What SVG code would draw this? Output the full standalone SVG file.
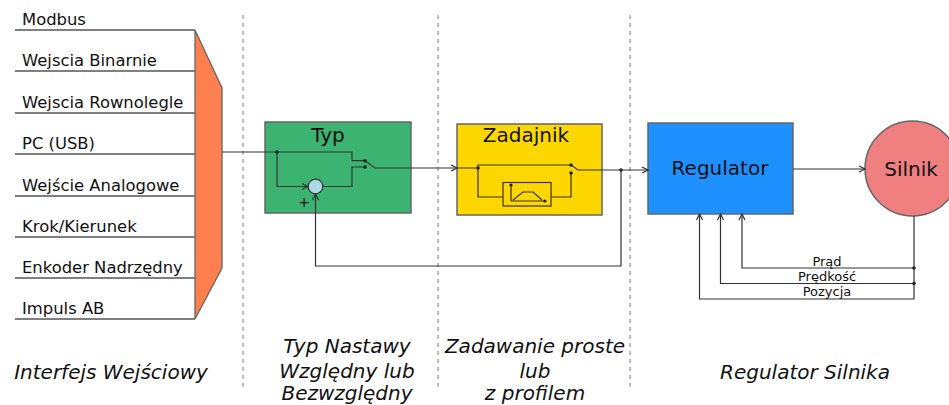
<svg xmlns="http://www.w3.org/2000/svg" width="949" height="405" viewBox="0 0 949 405">
<style>
.lbl{font-family:"DejaVu Sans","Verdana",sans-serif;font-size:16.4px;fill:#111}
.ttl{font-family:"DejaVu Sans","Verdana",sans-serif;font-size:20px;fill:#111;text-anchor:middle}
.sec{font-family:"DejaVu Sans","Verdana",sans-serif;font-size:20px;font-style:italic;fill:#111;text-anchor:middle}
.fb{font-family:"DejaVu Sans","Verdana",sans-serif;font-size:13px;fill:#111;text-anchor:middle}
.ln{fill:none;stroke:#333;stroke-width:1.2}
.in{fill:none;stroke:#555;stroke-width:1.3}
.dash{stroke:#aaa;stroke-width:1.5;stroke-dasharray:4 4}
.box{stroke:#666;stroke-width:1.5}
.dot{fill:#222}
</style>
<defs>
<marker id="ar" markerWidth="8" markerHeight="8" refX="7" refY="4" orient="auto" markerUnits="userSpaceOnUse">
<path d="M1,1 L7,4 L1,7" fill="none" stroke="#333" stroke-width="1.2"/>
</marker>
</defs>
<rect width="949" height="405" fill="#fff"/>
<g id="separators">
<line class="dash" x1="243" y1="15" x2="243" y2="390"/>
<line class="dash" x1="438" y1="15" x2="438" y2="390"/>
<line class="dash" x1="630" y1="15" x2="630" y2="390"/>
</g>
<g id="inputs">
<g class="in">
<line x1="15" y1="30" x2="195" y2="30"/>
<line x1="15" y1="71" x2="195" y2="71"/>
<line x1="15" y1="113" x2="195" y2="113"/>
<line x1="15" y1="154" x2="195" y2="154"/>
<line x1="15" y1="196" x2="195" y2="196"/>
<line x1="15" y1="237" x2="195" y2="237"/>
<line x1="15" y1="278" x2="195" y2="278"/>
<line x1="15" y1="319" x2="195" y2="319"/>
</g>
<text class="lbl" x="22" y="25">Modbus</text>
<text class="lbl" x="22" y="66">Wejscia Binarnie</text>
<text class="lbl" x="22" y="108">Wejscia Rownolegle</text>
<text class="lbl" x="22" y="149">PC (USB)</text>
<text class="lbl" x="22" y="191">Wejście Analogowe</text>
<text class="lbl" x="22" y="232">Krok/Kierunek</text>
<text class="lbl" x="22" y="273">Enkoder Nadrzędny</text>
<text class="lbl" x="22" y="314">Impuls AB</text>
</g>
<g id="mux">
<polygon points="195,30 222,88 222,268 195,319" fill="#FF7F4F" stroke="#666" stroke-width="1.3"/>
</g>
<g id="typ">
<rect class="box" x="265" y="122" width="146" height="91" fill="#3CB371"/>
<text class="ttl" x="328" y="142">Typ</text>
<circle cx="315.5" cy="186.5" r="7.3" fill="#ADD8E6" stroke="#333" stroke-width="1.2"/>
<text x="304" y="207" font-family="DejaVu Sans, sans-serif" font-size="14" fill="#111" text-anchor="middle">+</text>
</g>
<g id="zadajnik">
<rect class="box" x="457" y="124" width="145" height="91" fill="#FFD700"/>
<text class="ttl" x="526" y="142">Zadajnik</text>
<rect x="503" y="182.5" width="48" height="23.5" fill="none" stroke="#333" stroke-width="1.2"/>
<path class="ln" d="M511,201 V185 M511,201 H545 M513,200 L523,192 H533 L542,200"/>
<circle class="dot" cx="511" cy="185" r="1.6"/>
<circle class="dot" cx="545" cy="201" r="1.6"/>
</g>
<g id="regulator">
<rect class="box" x="648" y="123" width="145" height="91" fill="#1E90FF"/>
<text class="ttl" x="720" y="175">Regulator</text>
</g>
<g id="silnik">
<circle cx="912.5" cy="168.5" r="47.5" fill="#F08080" stroke="#666" stroke-width="1.5"/>
<text class="ttl" x="911" y="176">Silnik</text>
</g>
<g id="connectors">
<path class="ln" d="M222,152 H352 V160.7 H365"/>
<path class="ln" d="M277,152 V186.5 H308" marker-end="url(#ar)"/>
<path class="ln" d="M323,186.5 H352 V167 H365"/>
<path class="ln" d="M365,160.7 L375,168 H457" marker-end="url(#ar)"/>
<path class="ln" d="M457,168 H478 V165 H571"/>
<path class="ln" d="M478,168 V197 H503"/>
<path class="ln" d="M551,197 H571 V173"/>
<path class="ln" d="M571,165 L578,170 H648" marker-end="url(#ar)"/>
<path class="ln" d="M621,170 V266 H315.5 V194" marker-end="url(#ar)"/>
<path class="ln" d="M793,169 H865" marker-end="url(#ar)"/>
<path class="ln" d="M914,216 V299 H699.5 V214" marker-end="url(#ar)"/>
<path class="ln" d="M914,283.5 H720.5 V214" marker-end="url(#ar)"/>
<path class="ln" d="M914,268 H742 V214" marker-end="url(#ar)"/>
<circle class="dot" cx="277" cy="152" r="1.8"/>
<circle class="dot" cx="365" cy="160.7" r="1.8"/>
<circle class="dot" cx="365" cy="167" r="1.8"/>
<circle class="dot" cx="478" cy="168" r="1.8"/>
<circle class="dot" cx="571" cy="165" r="1.8"/>
<circle class="dot" cx="571" cy="173" r="1.8"/>
<circle class="dot" cx="621" cy="170" r="1.8"/>
<circle class="dot" cx="914" cy="268" r="1.8"/>
<circle class="dot" cx="914" cy="283.5" r="1.8"/>
<text class="fb" x="827" y="266">Prąd</text>
<text class="fb" x="827" y="281">Prędkość</text>
<text class="fb" x="827" y="296">Pozycja</text>
</g>
<g id="sections">
<text class="sec" x="111" y="379">Interfejs Wejściowy</text>
<text class="sec" x="347" y="353">Typ Nastawy</text>
<text class="sec" x="347" y="378">Względny lub</text>
<text class="sec" x="347" y="400">Bezwzględny</text>
<text class="sec" x="535" y="353">Zadawanie proste</text>
<text class="sec" x="535" y="378">lub</text>
<text class="sec" x="535" y="400">z profilem</text>
<text class="sec" x="805" y="379">Regulator Silnika</text>
</g>
</svg>
